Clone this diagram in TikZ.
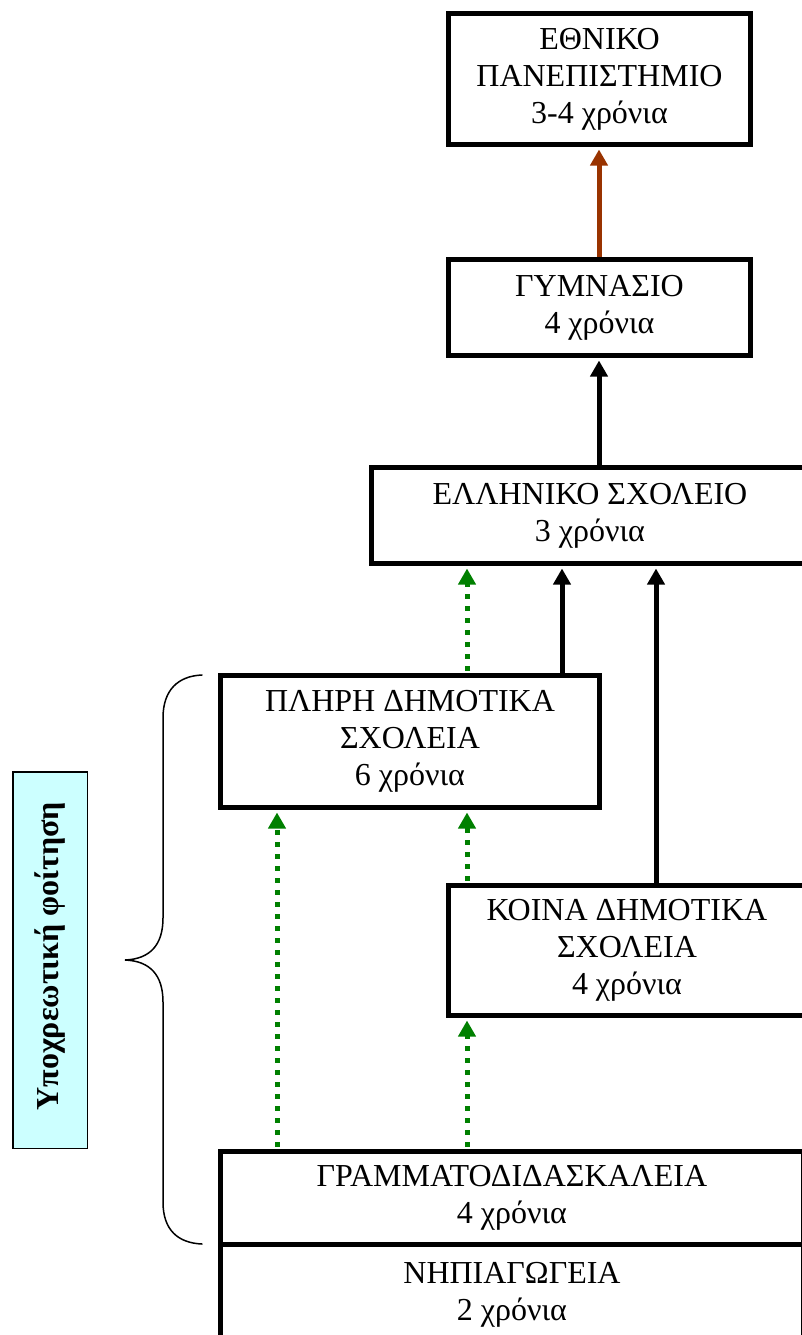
\documentclass[tikz,border=0pt]{standalone}
\usepackage{fontspec}
\setmainfont{Liberation Serif}
\usetikzlibrary{arrows.meta}
\definecolor{arrgreen}{HTML}{008000}
\definecolor{arrbrown}{HTML}{993300}
\definecolor{notecyan}{HTML}{CCFFFF}
\begin{document}
\begin{tikzpicture}[x=1pt,y=-1pt,
  box/.style={draw, line width=5pt, inner sep=0pt, align=center,
    font=\fontsize{32}{37}\selectfont},
  solidarrow/.style={line width=5pt, -{Triangle[width=17pt,length=16pt]}, shorten >=2.5pt},
  brownarrow/.style={solidarrow, color=arrbrown},
  dotarrow/.style={line width=5pt, color=arrgreen, dash pattern=on 5pt off 7pt,
    -{Triangle[width=17pt,length=16pt]}, shorten >=2.5pt, shorten <=2.5pt},
  bracestyle/.style={line width=1.5pt, line cap=round},
  notebox/.style={draw, line width=1.5pt, fill=notecyan, inner sep=0pt},
  notetextstyle/.style={inner sep=0pt, rotate=90, font=\bfseries\fontsize{32}{38}\selectfont}
]
\useasboundingbox (0,0) rectangle (802,1335);

\node[box, minimum width=302pt, minimum height=131pt] (eth) at (599.5,79)
  {ΕΘΝΙΚΟ\\ΠΑΝΕΠΙΣΤΗΜΙΟ\\3-4 χρόνια};
\node[box, minimum width=302pt, minimum height=96pt] (gym) at (599.5,307.5)
  {ΓΥΜΝΑΣΙΟ\\4 χρόνια};
\node[box, minimum width=437pt, minimum height=96pt] (ell) at (590,515.5)
  {ΕΛΛΗΝΙΚΟ ΣΧΟΛΕΙΟ\\3 χρόνια};
\node[box, minimum width=379pt, minimum height=132pt] (pliri) at (410,741.5)
  {ΠΛΗΡΗ ΔΗΜΟΤΙΚΑ\\ΣΧΟΛΕΙΑ\\6 χρόνια};
\node[box, minimum width=357pt, minimum height=130pt] (koina) at (627,950.5)
  {ΚΟΙΝΑ ΔΗΜΟΤΙΚΑ\\ΣΧΟΛΕΙΑ\\4 χρόνια};
\node[box, minimum width=583pt, minimum height=92.5pt] (gram) at (512,1197.75)
  {ΓΡΑΜΜΑΤΟΔΙΔΑΣΚΑΛΕΙΑ\\4 χρόνια};
\node[box, minimum width=583pt, minimum height=102pt] (nipi) at (512,1295)
  {ΝΗΠΙΑΓΩΓΕΙΑ\\2 χρόνια};

\node[notebox, minimum width=74.5pt, minimum height=376.5pt] (note) at (50,960) {};
\node[notetextstyle, xshift=4pt] (notetext) at (note.center) {Υποχρεωτική φοίτηση};

\coordinate (xa) at (277,0);
\coordinate (xb) at (467,0);
\coordinate (xc) at (562,0);
\coordinate (xd) at (656,0);
\coordinate (xe) at (599,0);

\draw[brownarrow] (gym.north -| xe) -- (eth.south -| xe);
\draw[solidarrow] (ell.north -| xe) -- (gym.south -| xe);
\draw[dotarrow] (pliri.north -| xb) -- (ell.south -| xb);
\draw[solidarrow] (pliri.north -| xc) -- (ell.south -| xc);
\draw[solidarrow] (koina.north -| xd) -- (ell.south -| xd);
\draw[dotarrow] (koina.north -| xb) -- (pliri.south -| xb);
\draw[dotarrow] (gram.north -| xa) -- (pliri.south -| xa);
\draw[dotarrow] (gram.north -| xb) -- (koina.south -| xb);

\draw[bracestyle] (202,675) .. controls (178,676) and (163,690) .. (163,718)
  -- (163,918) .. controls (163,945) and (150,959) .. (125,960)
  .. controls (150,961) and (163,975) .. (163,1002)
  -- (163,1202) .. controls (163,1230) and (178,1243) .. (202,1244);
\end{tikzpicture}
\end{document}
